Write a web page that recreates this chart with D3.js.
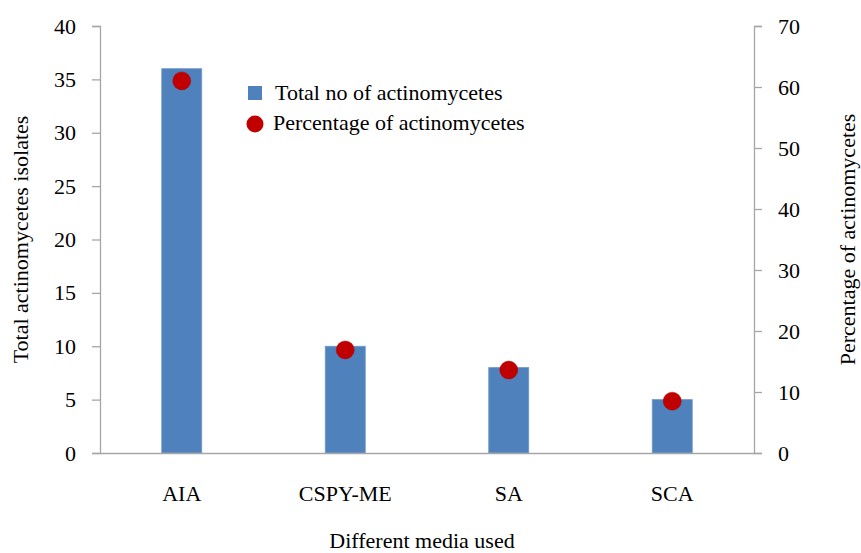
<!DOCTYPE html>
<html>
<head>
<meta charset="utf-8">
<script src="https://cdn.jsdelivr.net/npm/d3@7"></script>
<style>
    body { margin: 0; background: #fff; }
    text { font-family: 'Liberation Serif', 'Times New Roman', serif; fill: #000; }
</style>
</head>
<body>
<div id="myChart"></div>
<script>
let media = ['AIA', 'CSPY-ME', 'SA', 'SCA'];
let totals = [36, 10, 8, 5];
let percents = [61.0, 16.9, 13.6, 8.5];
let leftTicks = [0, 5, 10, 15, 20, 25, 30, 35, 40];
let rightTicks = [0, 10, 20, 30, 40, 50, 60, 70];

let W = 861, H = 553;
let margin = { top: 26, right: 107, bottom: 100, left: 100 };
let width = W - margin.left - margin.right;
let height = H - margin.top - margin.bottom;
let axisColor = '#a6a6a6';
let fs = '22px';

let svg = d3.select('#myChart')
    .append('svg')
    .attr('width', W)
    .attr('height', H)
    .append('g')
    .attr('transform', 'translate(' + margin.left + ',' + margin.top + ')');

let x = d3.scaleBand().domain(media).range([0, width]).padding(0);
let yL = d3.scaleLinear().domain([0, 40]).range([height, 0]);
let yR = d3.scaleLinear().domain([0, 70]).range([height, 0]);
let barW = 40;

// bars
svg.selectAll('.bar')
    .data(media)
    .enter()
    .append('rect')
    .attr('class', 'bar')
    .attr('x', (d) => x(d) + x.bandwidth() / 2 - barW / 2)
    .attr('width', barW)
    .attr('y', (d, i) => yL(totals[i]))
    .attr('height', (d, i) => height - yL(totals[i]))
    .attr('fill', '#4f81bd')
    .attr('stroke', '#6f97c9')
    .attr('stroke-width', 0.8);

// axes
function styleAxis(g) {
    g.selectAll('path, line').attr('stroke', axisColor).attr('stroke-width', 1.3);
    g.selectAll('text').style('font-size', fs).attr('fill', '#000');
}

svg.append('g')
    .attr('transform', 'translate(0,' + height + ')')
    .call(d3.axisBottom(x).tickSize(0).tickPadding(32))
    .call(styleAxis);

svg.append('g')
    .call(d3.axisLeft(yL).tickValues(leftTicks).tickSizeOuter(0).tickSize(8).tickPadding(16))
    .call(styleAxis);

svg.append('g')
    .attr('transform', 'translate(' + width + ',0)')
    .call(d3.axisRight(yR).tickValues(rightTicks).tickSizeOuter(0).tickSize(8).tickPadding(16))
    .call(styleAxis);

// percentage points
svg.selectAll('.dot')
    .data(media)
    .enter()
    .append('circle')
    .attr('class', 'dot')
    .attr('cx', (d) => x(d) + x.bandwidth() / 2)
    .attr('cy', (d, i) => yR(percents[i]))
    .attr('r', 9)
    .attr('fill', '#c00000')
    .attr('stroke', '#b00000')
    .attr('stroke-width', 0.5);

// axis titles
svg.append('text')
    .attr('x', width / 2 - 5)
    .attr('y', 522)
    .style('text-anchor', 'middle')
    .style('font-size', fs)
    .text('Different media used');

svg.append('text')
    .attr('transform', 'translate(' + (-72) + ',' + (height / 2) + ') rotate(-90)')
    .style('text-anchor', 'middle')
    .style('font-size', fs)
    .text('Total actinomycetes isolates');

svg.append('text')
    .attr('transform', 'translate(' + (width + 101) + ',' + (height / 2) + ') rotate(-90)')
    .style('text-anchor', 'middle')
    .style('font-size', fs)
    .text('Percentage of actinomycetes');

// legend
let legend = svg.append('g');
legend.append('rect')
    .attr('x', 148).attr('y', 60).attr('width', 14).attr('height', 14)
    .attr('fill', '#4f81bd');
legend.append('text')
    .attr('x', 175).attr('y', 74)
    .style('font-size', fs)
    .text('Total no of actinomycetes');
legend.append('circle')
    .attr('cx', 155).attr('cy', 98).attr('r', 8.5)
    .attr('fill', '#c00000');
legend.append('text')
    .attr('x', 173).attr('y', 104)
    .style('font-size', fs)
    .text('Percentage of actinomycetes');
</script>
</body>
</html>
